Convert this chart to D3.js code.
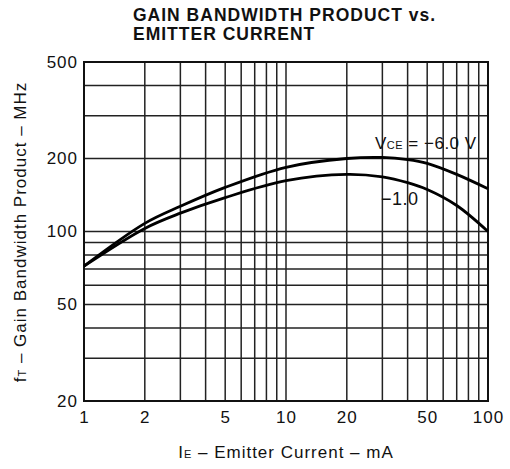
<!DOCTYPE html>
<html>
<head>
<meta charset="utf-8">
<script src="https://cdn.jsdelivr.net/npm/d3@7"></script>
<style>
  body { margin: 0; background: #fff; }
  text { font-family: "Liberation Sans", Arial, sans-serif; fill: #111; }
</style>
</head>
<body>
<svg id="canvas" width="510" height="469"></svg>
<script>
// emitter current, mA
const currentMa = [1, 2, 3, 5, 10, 20, 30, 40, 50, 70, 100];
// f_T in MHz for each curve
const vce6 = [72, 108, 127, 152, 184, 200, 202, 198, 191, 172, 150];
const vce1 = [72, 103, 119, 138, 162, 172, 168, 159, 149, 128, 100];

const xGrid = [1, 2, 3, 4, 5, 6, 7, 8, 9, 10, 20, 30, 40, 50, 60, 70, 80, 90, 100];
const yGrid = [20, 30, 40, 50, 60, 70, 80, 90, 100, 200, 300, 400, 500];
const xTicks = [1, 2, 5, 10, 20, 50, 100];
const yTicks = [20, 50, 100, 200, 500];

const canvas = d3.select("#canvas");

const plotLeft = 84, plotRight = 488, plotTop = 62, plotBottom = 401;

const x = d3.scaleLog().domain([1, 100]).range([plotLeft, plotRight]);
const y = d3.scaleLog().domain([20, 500]).range([plotBottom, plotTop]);

// title
canvas
  .append("text")
  .attr("x", 133)
  .attr("y", 21)
  .style("font-size", "17.5px")
  .style("font-weight", "bold")
  .style("letter-spacing", "1px")
  .text("GAIN BANDWIDTH PRODUCT vs.");
canvas
  .append("text")
  .attr("x", 133)
  .attr("y", 40)
  .style("font-size", "17.5px")
  .style("font-weight", "bold")
  .style("letter-spacing", "1px")
  .text("EMITTER CURRENT");

// grid
canvas
  .append("g")
  .selectAll("line")
  .data(xGrid)
  .enter()
  .append("line")
  .attr("x1", (d) => x(d))
  .attr("x2", (d) => x(d))
  .attr("y1", plotTop)
  .attr("y2", plotBottom)
  .attr("stroke", "#222")
  .attr("stroke-width", 1.5);

canvas
  .append("g")
  .selectAll("line")
  .data(yGrid)
  .enter()
  .append("line")
  .attr("x1", plotLeft)
  .attr("x2", plotRight)
  .attr("y1", (d) => y(d))
  .attr("y2", (d) => y(d))
  .attr("stroke", "#222")
  .attr("stroke-width", 1.5);

canvas
  .append("rect")
  .attr("x", plotLeft)
  .attr("y", plotTop)
  .attr("width", plotRight - plotLeft)
  .attr("height", plotBottom - plotTop)
  .attr("fill", "none")
  .attr("stroke", "#111")
  .attr("stroke-width", 2);

// tick labels
const xAxis = d3.axisBottom(x).tickValues(xTicks).tickFormat(d3.format("d")).tickSize(0).tickPadding(10);
canvas
  .append("g")
  .attr("transform", `translate(0, ${plotBottom})`)
  .call(xAxis)
  .call((g) => g.select(".domain").remove())
  .selectAll("text")
  .style("font-size", "17px")
  .style("letter-spacing", "1px")
  .attr("fill", "#111");

const yAxis = d3.axisLeft(y).tickValues(yTicks).tickFormat(d3.format("d")).tickSize(0).tickPadding(6);
canvas
  .append("g")
  .attr("transform", `translate(${plotLeft}, 0)`)
  .call(yAxis)
  .call((g) => g.select(".domain").remove())
  .selectAll("text")
  .style("font-size", "17px")
  .style("letter-spacing", "1px")
  .attr("fill", "#111");

// curves
const line = d3
  .line()
  .x((d) => x(d[0]))
  .y((d) => y(d[1]))
  .curve(d3.curveCatmullRom);

[vce6, vce1].forEach((values) => {
  canvas
    .append("path")
    .datum(currentMa.map((c, i) => [c, values[i]]))
    .attr("d", line)
    .attr("fill", "none")
    .attr("stroke", "#000")
    .attr("stroke-width", 2.8);
});

// curve labels
const lab6 = canvas
  .append("text")
  .attr("x", 375)
  .attr("y", 149)
  .style("font-size", "17px")
  .style("letter-spacing", "0.5px");
lab6.append("tspan").text("V");
lab6.append("tspan").style("font-size", "11px").text("CE");
lab6.append("tspan").text(" = \u22126.0 V");

canvas
  .append("text")
  .attr("x", 381)
  .attr("y", 205)
  .style("font-size", "18px")
  .style("letter-spacing", "0.5px")
  .text("\u22121.0");

// axis titles
const xTitle = canvas
  .append("text")
  .attr("x", 286)
  .attr("y", 458)
  .attr("text-anchor", "middle")
  .style("font-size", "17px")
  .style("letter-spacing", "1px");
xTitle.append("tspan").text("I");
xTitle.append("tspan").style("font-size", "11px").text("E");
xTitle.append("tspan").text(" \u2013 Emitter Current \u2013 mA");

const yTitle = canvas
  .append("text")
  .attr("transform", "translate(26, 232) rotate(-90)")
  .attr("text-anchor", "middle")
  .style("font-size", "17px")
  .style("letter-spacing", "1px");
yTitle.append("tspan").text("f");
yTitle.append("tspan").style("font-size", "11px").text("T");
yTitle.append("tspan").text(" \u2013 Gain Bandwidth Product \u2013 MHz");
</script>
</body>
</html>
